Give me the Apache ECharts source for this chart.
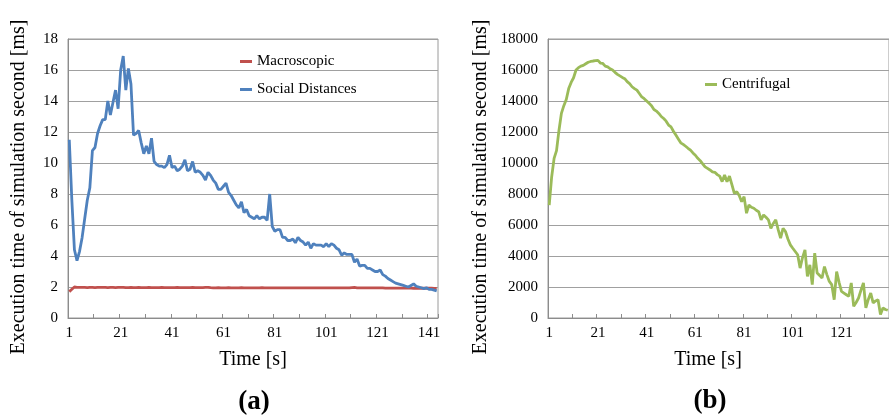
<!DOCTYPE html>
<html>
<head>
<meta charset="utf-8">
<script src="https://cdn.jsdelivr.net/npm/echarts@6/dist/echarts.min.js"></script>
<style>html,body{margin:0;padding:0;background:#fff;}#c{width:889px;height:420px;}</style>
</head>
<body>
<div id="c"></div>
<script>
// ---- data ----
const timeLeft = Array.from({length: 144}, (_, i) => String(i + 1));
const timeRight = Array.from({length: 140}, (_, i) => String(i + 1));

const macroscopic = [
1.70,1.85,2.00,1.98,1.97,1.98,1.97,1.96,1.97,1.97,
1.96,1.97,1.97,1.98,1.97,1.96,1.97,1.97,1.96,1.97,
1.98,1.97,1.96,1.96,1.97,1.96,1.96,1.97,1.96,1.96,
1.96,1.97,1.96,1.96,1.96,1.96,1.97,1.96,1.96,1.96,
1.96,1.96,1.97,1.96,1.96,1.96,1.96,1.96,1.97,1.96,
1.96,1.96,1.96,1.97,1.98,1.96,1.95,1.95,1.96,1.95,
1.95,1.95,1.96,1.95,1.95,1.95,1.95,1.96,1.95,1.95,
1.95,1.95,1.95,1.95,1.95,1.96,1.95,1.95,1.95,1.95,
1.95,1.95,1.95,1.95,1.95,1.95,1.95,1.95,1.95,1.95,
1.95,1.95,1.95,1.95,1.95,1.95,1.95,1.95,1.95,1.95,
1.95,1.94,1.94,1.94,1.94,1.94,1.94,1.94,1.94,1.94,
1.96,1.97,1.95,1.94,1.94,1.94,1.94,1.94,1.94,1.94,
1.94,1.94,1.94,1.93,1.93,1.93,1.93,1.93,1.93,1.93,
1.93,1.93,1.93,1.93,1.92,1.92,1.92,1.92,1.92,1.92,
1.92,1.92,1.91,1.91
];

const socialDistances = [
11.5,7.6,4.4,3.7,4.3,5.2,6.4,7.6,8.4,10.8,
11.0,11.9,12.4,12.8,12.8,14.0,13.1,13.9,14.7,13.5,
16.0,16.9,14.7,16.1,15.1,11.8,11.9,12.1,11.3,10.6,
11.1,10.6,11.6,10.1,9.9,9.8,9.8,9.7,9.9,10.5,
9.7,9.8,9.5,9.6,9.8,10.2,9.5,9.6,10.1,9.4,
9.5,9.4,9.2,8.9,9.4,9.2,8.9,8.7,8.3,8.3,
8.5,8.7,8.1,7.9,7.6,7.3,7.1,7.5,6.8,7.0,
6.6,6.5,6.4,6.6,6.4,6.5,6.5,6.3,8.0,5.9,
5.6,5.7,5.7,5.2,5.2,5.0,5.0,5.1,4.85,5.2,
5.0,4.9,4.7,4.9,4.5,4.8,4.7,4.7,4.7,4.6,
4.8,4.6,4.8,4.7,4.5,4.4,4.05,4.2,4.1,4.1,
4.1,3.6,3.8,3.35,3.4,3.4,3.2,3.2,3.1,3.0,
3.0,3.1,2.8,2.7,2.55,2.45,2.35,2.25,2.2,2.15,
2.1,2.05,2.0,2.1,2.2,2.05,2.0,1.95,1.9,1.95,
1.85,1.85,1.8,1.75
];

const centrifugal = [
7290,9100,10300,10800,12100,13200,13700,14100,14800,15200,
15500,16000,16150,16250,16300,16400,16500,16550,16580,16600,
16620,16450,16420,16250,16200,16080,16000,15850,15720,15620,
15520,15440,15250,15120,14920,14800,14700,14480,14260,14150,
14000,13850,13700,13450,13350,13200,13000,12870,12700,12450,
12330,12050,11800,11550,11300,11200,11080,10950,10830,10650,
10500,10300,10150,9950,9750,9650,9550,9430,9400,9250,
9150,8800,9220,8790,9160,8600,8040,8150,7900,7500,
7830,6760,7290,7150,7080,6950,6860,6330,6650,6500,
6330,5790,6100,6330,5700,5150,5790,5580,5100,4720,
4500,4290,4080,3220,3900,4400,2680,3430,2150,4190,
2900,2750,2580,3320,2800,2360,2150,1180,3000,2300,
1720,1610,1500,1400,2260,750,1000,1290,1800,2260,
650,1200,1610,970,1100,1180,220,650,550,500
];

// ---- chart ----
const FONT = 'Liberation Serif';
const chart = echarts.init(document.getElementById('c'), null, {renderer: 'canvas'});

function xAxisCfg(idx, cats) {
  return {
    type: 'category', gridIndex: idx, data: cats, boundaryGap: true,
    axisLine: {show: true, lineStyle: {color: '#8c8c8c', width: 1}},
    axisTick: {show: true, interval: 9, inside: true, length: 4, lineStyle: {color: '#8c8c8c'}},
    axisLabel: {interval: 19, margin: 8, fontFamily: FONT, fontSize: 15, color: '#000'},
    splitLine: {show: false}
  };
}
function yAxisCfg(idx, max, interval) {
  return {
    type: 'value', gridIndex: idx, min: 0, max: max, interval: interval,
    axisLine: {show: true, lineStyle: {color: '#8c8c8c', width: 1}},
    axisTick: {show: false},
    axisLabel: {margin: 10, fontFamily: FONT, fontSize: 15, color: '#000', formatter: v => String(v)},
    splitLine: {show: true, lineStyle: {color: '#a0a0a0', width: 1}}
  };
}

const option = {
  animation: false,
  backgroundColor: '#fff',
  grid: [
    {left: 68, top: 39, width: 370, height: 279, show: true, borderColor: '#9a9a9a', borderWidth: 1, backgroundColor: 'transparent'},
    {left: 548, top: 39, width: 341, height: 279, show: true, borderColor: '#9a9a9a', borderWidth: 1, backgroundColor: 'transparent'}
  ],
  xAxis: [xAxisCfg(0, timeLeft), xAxisCfg(1, timeRight)],
  yAxis: [yAxisCfg(0, 18, 2), yAxisCfg(1, 18000, 2000)],
  legend: [
    {
      data: ['Macroscopic', 'Social Distances'], orient: 'vertical',
      left: 240, top: 54, itemWidth: 12, itemHeight: 3, itemGap: 13, icon: 'rect', padding: 0,
      textStyle: {fontFamily: FONT, fontSize: 15, color: '#000'}
    },
    {
      data: ['Centrifugal'], orient: 'vertical',
      left: 705, top: 77, itemWidth: 12, itemHeight: 3, icon: 'rect', padding: 0,
      textStyle: {fontFamily: FONT, fontSize: 15, color: '#000'}
    }
  ],
  series: [
    {name: 'Macroscopic', type: 'line', xAxisIndex: 0, yAxisIndex: 0, data: macroscopic,
     symbol: 'none', lineStyle: {color: '#C0504D', width: 2.8}, itemStyle: {color: '#C0504D'}},
    {name: 'Social Distances', type: 'line', xAxisIndex: 0, yAxisIndex: 0, data: socialDistances,
     symbol: 'none', lineStyle: {color: '#4F81BD', width: 2.8}, itemStyle: {color: '#4F81BD'}},
    {name: 'Centrifugal', type: 'line', xAxisIndex: 1, yAxisIndex: 1, data: centrifugal,
     symbol: 'none', lineStyle: {color: '#9BBB59', width: 2.8}, itemStyle: {color: '#9BBB59'}}
  ],
  graphic: [
    {type: 'text', x: 19, y: 187, rotation: Math.PI / 2,
     style: {text: 'Execution time of simulation second [ms]', font: '20px "Liberation Serif"', fill: '#000', align: 'center', verticalAlign: 'middle'}},
    {type: 'text', x: 481, y: 187, rotation: Math.PI / 2,
     style: {text: 'Execution time of simulation second [ms]', font: '20px "Liberation Serif"', fill: '#000', align: 'center', verticalAlign: 'middle'}},
    {type: 'text', x: 253, y: 360,
     style: {text: 'Time [s]', font: '20px "Liberation Serif"', fill: '#000', align: 'center', verticalAlign: 'middle'}},
    {type: 'text', x: 708, y: 360,
     style: {text: 'Time [s]', font: '20px "Liberation Serif"', fill: '#000', align: 'center', verticalAlign: 'middle'}},
    {type: 'text', x: 254, y: 402,
     style: {text: '(a)', font: 'bold 27px "Liberation Serif"', fill: '#000', align: 'center', verticalAlign: 'middle'}},
    {type: 'text', x: 710, y: 401,
     style: {text: '(b)', font: 'bold 27px "Liberation Serif"', fill: '#000', align: 'center', verticalAlign: 'middle'}}
  ]
};
chart.setOption(option);
</script>
</body>
</html>
